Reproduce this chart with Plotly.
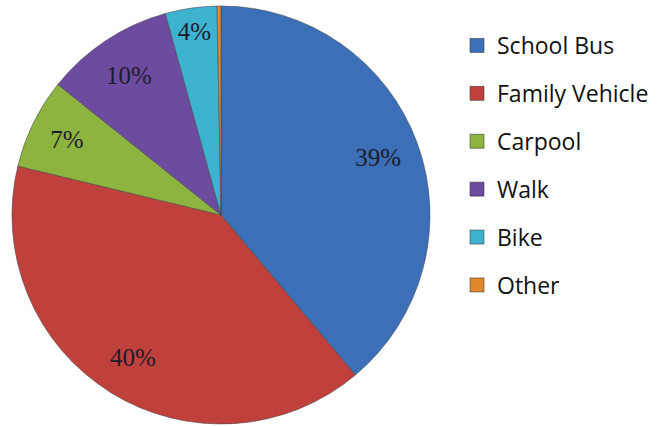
import plotly.graph_objects as go

# Travel mode shares (percent)
modes = ["School Bus", "Family Vehicle", "Carpool", "Walk", "Bike", "Other"]
shares = [39, 40, 7, 10, 4, 0.3]
colors = ["#3b70b9", "#c0403b", "#8cb43e", "#6d4ba0", "#3db3cf", "#e1882c"]

# Slice labels: only whole-number shares are labelled
slice_text = [f"{v}%" if v >= 1 else "" for v in shares]

W, H = 657, 426
cx, cy, r = 221, 215, 209
dom_x = [(cx - r) / W, (cx + r) / W]
dom_y = [(H - cy - r) / H, (H - cy + r) / H]

fig = go.Figure()

# Filled pie
fig.add_trace(go.Pie(
    labels=modes, values=shares, sort=False, direction="clockwise",
    marker=dict(colors=colors, line=dict(color="rgba(70,70,70,0.55)", width=1)),
    textinfo="none", hoverinfo="label+percent", showlegend=False,
    domain=dict(x=dom_x, y=dom_y),
))

# Transparent ring carrying the percentage labels near the rim
fig.add_trace(go.Pie(
    labels=modes, values=shares, sort=False, direction="clockwise", hole=0.6,
    marker=dict(colors=["rgba(0,0,0,0)"] * len(modes), line=dict(width=0)),
    text=slice_text, textinfo="text", textposition="inside",
    insidetextorientation="horizontal",
    textfont=dict(family="Liberation Serif", size=25, color="#1c1c2c"),
    hoverinfo="skip", showlegend=False,
    domain=dict(x=dom_x, y=dom_y),
))

# Legend entries, one group per mode so rows can be spaced apart
for i, (name, col) in enumerate(zip(modes, colors)):
    fig.add_trace(go.Scatter(
        x=[None], y=[None], mode="markers", name=name, legendgroup=f"g{i}",
        marker=dict(symbol="square", size=14, color=col,
                    line=dict(color="rgba(40,40,40,0.5)", width=1)),
    ))

fig.update_layout(
    width=W, height=H,
    margin=dict(l=0, r=0, t=0, b=0),
    paper_bgcolor="white", plot_bgcolor="white",
    xaxis=dict(visible=False), yaxis=dict(visible=False),
    legend=dict(
        x=457 / W, y=1 - 24 / H, xanchor="left", yanchor="top",
        font=dict(family="Open Sans", size=23, color="#111111"),
        tracegroupgap=15, bgcolor="rgba(0,0,0,0)",
    ),
    uniformtext=dict(minsize=25, mode="show"),
)

fig.write_html("out.html")
